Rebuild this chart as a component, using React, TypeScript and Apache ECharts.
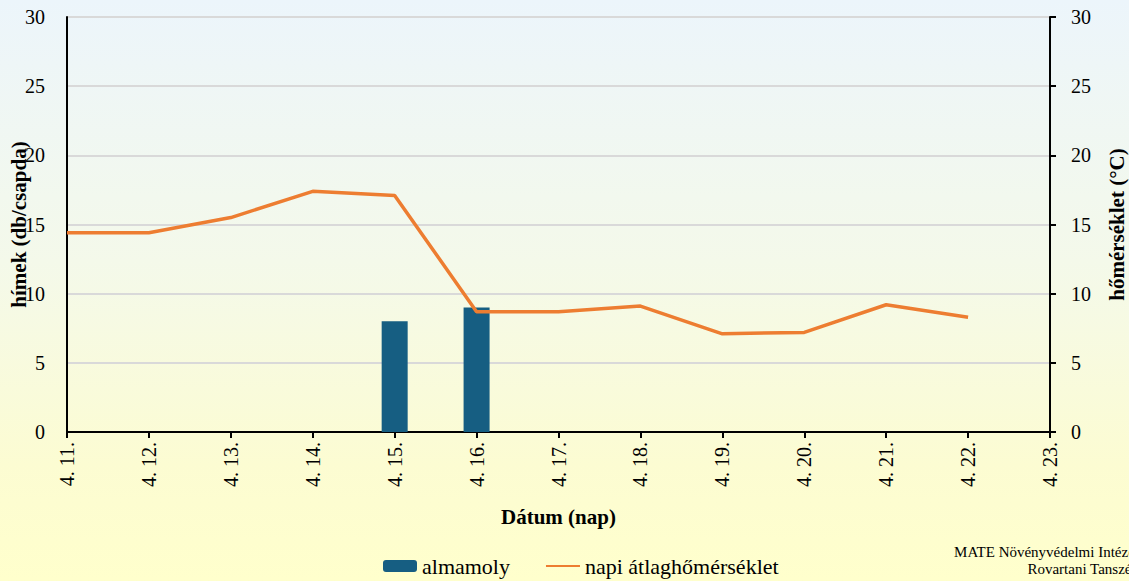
import React, { useEffect, useRef } from "react";
import * as echarts from "echarts";

const categories = ["4. 11.", "4. 12.", "4. 13.", "4. 14.", "4. 15.", "4. 16.", "4. 17.", "4. 18.", "4. 19.", "4. 20.", "4. 21.", "4. 22.", "4. 23."];
const mothCounts: (number | null)[] = [null, null, null, null, 8, 9, null, null, null, null, null, null, null];
const temperatures: (number | null)[] = [14.4, 14.4, 15.5, 17.4, 17.1, 8.7, 8.7, 9.1, 7.1, 7.2, 9.2, 8.3, null];
const barName = "almamoly";
const lineName = "napi átlaghőmérséklet";
const leftTitle = "hímek (db/csapda)";
const rightTitle = "hőmérséklet (°C)";
const xTitle = "Dátum (nap)";
const creditText = "MATE Növényvédelmi Intézet\nRovartani Tanszék";

const FONT = "Liberation Serif";

export default function App() {
  const ref = useRef<HTMLDivElement>(null);
  useEffect(() => {
    document.body.style.margin = "0";
    document.body.style.fontFamily = FONT;
    if (!ref.current) return;
    const chart = echarts.init(ref.current, null, { renderer: "svg" });
    chart.setOption({
      animation: false,
      textStyle: { fontFamily: FONT },
      grid: { left: 67, right: 79, top: 17, bottom: 149, outerBoundsMode: "none" },
      legend: {
        left: 378,
        top: 550,
        itemWidth: 34,
        itemHeight: 12,
        itemGap: 35,
        textStyle: { fontSize: 22, color: "#000", fontFamily: FONT },
        data: [
          { name: barName },
          { name: lineName, itemStyle: { opacity: 0 } },
        ],
      },
      xAxis: {
        type: "category",
        data: categories,
        boundaryGap: false,
        axisLine: { lineStyle: { color: "#000", width: 2 } },
        axisTick: { show: true, length: 6, lineStyle: { color: "#000", width: 2 } },
        axisLabel: { fontSize: 20, color: "#000", fontFamily: FONT, rotate: 90, margin: 10, interval: 0 },
        name: xTitle,
        nameLocation: "middle",
        nameGap: 74,
        nameMoveOverlap: false,
        nameTextStyle: { fontSize: 21, fontWeight: "bold", color: "#000", fontFamily: FONT },
      },
      yAxis: [
        {
          type: "value",
          min: 0,
          max: 30,
          interval: 5,
          name: leftTitle,
          nameLocation: "middle",
          nameRotate: 90,
          nameGap: 38,
          nameMoveOverlap: false,
          nameTextStyle: { fontSize: 21, fontWeight: "bold", color: "#000", fontFamily: FONT },
          axisLine: { show: true, lineStyle: { color: "#000", width: 2 } },
          axisTick: { show: false },
          axisLabel: { fontSize: 20, color: "#000", fontFamily: FONT, margin: 22 },
          splitLine: { show: true, lineStyle: { color: "#d9d9d9", width: 2 } },
        },
        {
          type: "value",
          min: 0,
          max: 30,
          interval: 5,
          position: "right",
          name: rightTitle,
          nameLocation: "middle",
          nameRotate: 90,
          nameGap: 56,
          nameMoveOverlap: false,
          nameTextStyle: { fontSize: 21, fontWeight: "bold", color: "#000", fontFamily: FONT },
          axisLine: { show: true, lineStyle: { color: "#000", width: 2 } },
          axisTick: { show: true, length: 6, lineStyle: { color: "#000", width: 2 } },
          axisLabel: { fontSize: 20, color: "#000", fontFamily: FONT, margin: 21 },
          splitLine: { show: false },
        },
      ],
      series: [
        {
          name: barName,
          type: "bar",
          yAxisIndex: 0,
          data: mothCounts,
          barWidth: 26,
          itemStyle: { color: "#165e82" },
        },
        {
          name: lineName,
          type: "line",
          yAxisIndex: 1,
          data: temperatures,
          symbol: "none",
          showSymbol: false,
          lineStyle: { color: "#ed7d31", width: 3.5 },
          itemStyle: { color: "#ed7d31" },
        },
      ],
      graphic: [
        {
          type: "text",
          x: 1139,
          y: 543,
          style: {
            text: creditText,
            fontSize: 15,
            fontFamily: FONT,
            fill: "#000",
            align: "right",
            lineHeight: 17,
          },
        },
      ],
    });
    const svg = ref.current.querySelector("svg");
    if (svg) svg.setAttribute("font-family", FONT);
    return () => chart.dispose();
  }, []);
  return (
    <>
      <style>{`.chart-root svg text { font-family: "Liberation Serif", "Times New Roman", serif !important; }`}</style>
      <div
        ref={ref}
        className="chart-root"
        style={{
          width: 1129,
          height: 581,
          fontFamily: FONT,
          background: "linear-gradient(to bottom, #ecf5fb 0%, #f4f9ea 45%, #fcfcd2 80%, #ffffcc 100%)",
        }}
      />
    </>
  );
}
